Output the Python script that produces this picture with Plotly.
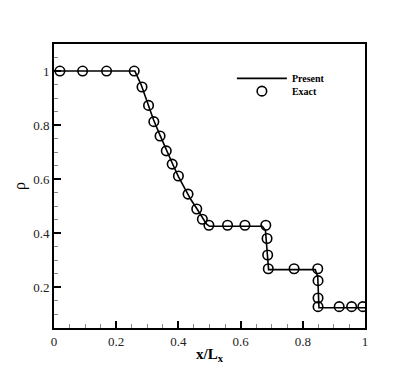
import plotly.graph_objects as go

# Present solution (line)
present_x = [0.0, 0.26, 0.28, 0.30, 0.32, 0.34, 0.36, 0.38, 0.40, 0.42, 0.44, 0.46,
             0.48, 0.49, 0.50, 0.67, 0.68, 0.685, 0.69, 0.84, 0.848, 0.852, 1.0]
present_rho = [1.0, 1.0, 0.95, 0.885, 0.82, 0.765, 0.71, 0.66, 0.61, 0.565, 0.525, 0.49,
               0.45, 0.435, 0.426, 0.426, 0.41, 0.34, 0.266, 0.266, 0.24, 0.125, 0.125]

# Exact solution (circles)
exact_x = [0.019, 0.092, 0.169, 0.258, 0.283, 0.304, 0.321, 0.341, 0.361, 0.380, 0.400,
           0.431, 0.459, 0.477, 0.498, 0.558, 0.614, 0.681, 0.685, 0.687, 0.689, 0.772,
           0.848, 0.849, 0.849, 0.849, 0.917, 0.957, 0.993]
exact_rho = [1.0, 1.0, 1.0, 1.0, 0.941, 0.873, 0.813, 0.760, 0.705, 0.656, 0.612,
             0.545, 0.490, 0.452, 0.430, 0.430, 0.430, 0.430, 0.381, 0.320, 0.269, 0.269,
             0.269, 0.225, 0.161, 0.129, 0.129, 0.129, 0.129]

serif = "Liberation Serif, Times New Roman, serif"

fig = go.Figure()
fig.add_trace(go.Scatter(x=present_x, y=present_rho, mode="lines", name="Present",
                         line=dict(color="black", width=1.6), legend="legend"))
fig.add_trace(go.Scatter(x=exact_x, y=exact_rho, mode="markers", name="Exact",
                         marker=dict(symbol="circle-open", size=9.5, color="black",
                                     line=dict(width=1.6)), legend="legend2"))

axis_common = dict(showgrid=False, zeroline=False, showline=True, linecolor="black",
                   linewidth=2, mirror=True, ticks="inside", ticklen=7, tickwidth=1.5,
                   tickcolor="black", automargin=False,
                   tickfont=dict(family=serif, size=13, color="#222"),
                   minor=dict(ticks="inside", ticklen=4, tickwidth=1, tickcolor="#888",
                              dtick=0.05, showgrid=False))

fig.update_xaxes(range=[0, 1], tick0=0, dtick=0.2, tickformat="~g",
                 title=dict(text="<b>x/L<sub>x</sub></b>",
                            font=dict(family=serif, size=15, color="black"), standoff=1),
                 **axis_common)
fig.update_yaxes(range=[0.05, 1.1], tick0=0.2, dtick=0.2, tickformat="~g",
                 title=dict(text="ρ", font=dict(family=serif, size=16, color="black"),
                            standoff=4),
                 **axis_common)

# page body adds an 8px margin, so the figure is a bit smaller than the window
legend_font = dict(family=serif, size=10, color="black", weight="bold")
fig.update_layout(width=407, height=361, margin=dict(l=46, r=50, t=36, b=41),
                  plot_bgcolor="white", paper_bgcolor="white", showlegend=True,
                  legend=dict(x=0.572, y=0.93, xanchor="left", yanchor="top",
                              bgcolor="rgba(0,0,0,0)", itemwidth=50, font=legend_font),
                  legend2=dict(x=0.572, y=0.885, xanchor="left", yanchor="top",
                               bgcolor="rgba(0,0,0,0)", itemwidth=50, font=legend_font))

fig.write_html("out.html")
